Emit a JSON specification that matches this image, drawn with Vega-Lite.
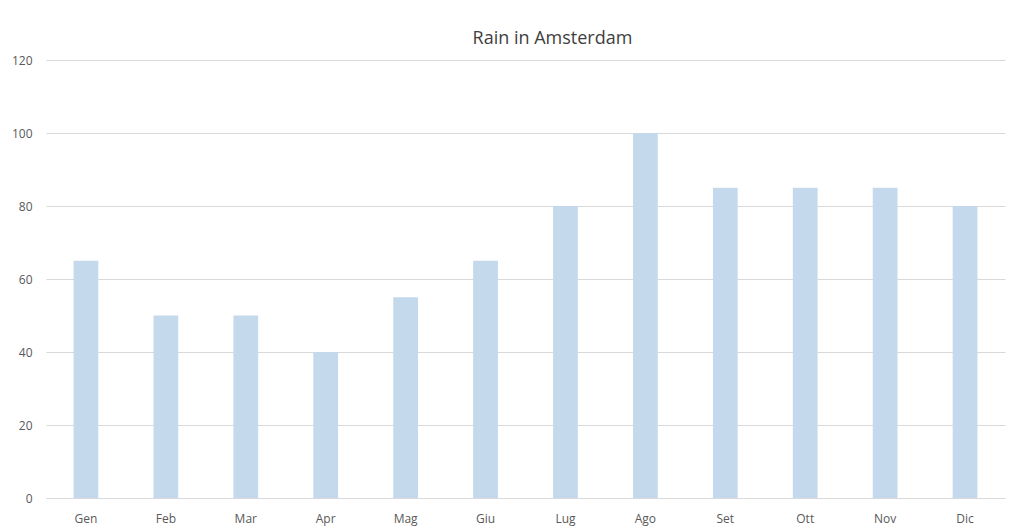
{
  "$schema": "https://vega.github.io/schema/vega-lite/v6.json",
  "description": "Rain in Amsterdam",
  "autosize": {"type": "none"},
  "width": 959,
  "height": 438,
  "padding": {"left": 46, "top": 60, "right": 19, "bottom": 31},
  "background": "white",
  "title": {
    "text": "Rain in Amsterdam",
    "anchor": "middle",
    "dx": 27,
    "offset": 6,
    "font": "Open Sans",
    "fontSize": 18,
    "fontWeight": "normal",
    "color": "#404040"
  },
  "data": {
    "values": [
      {"mese": "Gen", "pioggia": 65},
      {"mese": "Feb", "pioggia": 50},
      {"mese": "Mar", "pioggia": 50},
      {"mese": "Apr", "pioggia": 40},
      {"mese": "Mag", "pioggia": 55},
      {"mese": "Giu", "pioggia": 65},
      {"mese": "Lug", "pioggia": 80},
      {"mese": "Ago", "pioggia": 100},
      {"mese": "Set", "pioggia": 85},
      {"mese": "Ott", "pioggia": 85},
      {"mese": "Nov", "pioggia": 85},
      {"mese": "Dic", "pioggia": 80}
    ]
  },
  "mark": {"type": "bar", "color": "#c5d9ed"},
  "encoding": {
    "x": {
      "field": "mese",
      "type": "nominal",
      "sort": null,
      "title": null,
      "scale": {"paddingInner": 0.69, "paddingOuter": 0.345},
      "axis": {
        "labelAngle": 0,
        "ticks": false,
        "domainColor": "#d9d9d9",
        "labelPadding": 15,
        "labelFont": "Open Sans",
        "labelFontSize": 12,
        "labelColor": "#595959"
      }
    },
    "y": {
      "field": "pioggia",
      "type": "quantitative",
      "title": null,
      "scale": {"domain": [0, 120]},
      "axis": {
        "values": [0, 20, 40, 60, 80, 100, 120],
        "domain": false,
        "ticks": false,
        "gridColor": "#d9d9d9",
        "labelPadding": 14,
        "labelFont": "Open Sans",
        "labelFontSize": 12,
        "labelColor": "#595959"
      }
    }
  },
  "config": {"view": {"stroke": null}}
}
